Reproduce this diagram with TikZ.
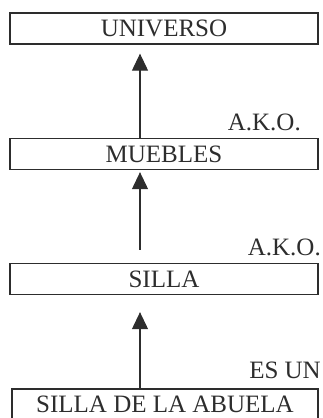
\documentclass[tikz,border=0pt]{standalone}
\usepackage{fontspec}
\setmainfont{Liberation Serif}
\usepackage{tikz}
\usetikzlibrary{arrows.meta}
\definecolor{InkGray}{RGB}{45,45,45}

\begin{document}
\begin{tikzpicture}[x=1pt, y=-1pt,
          box/.style={rectangle, draw=InkGray, line width=1.3pt, minimum width=308pt,
                      minimum height=31pt, inner sep=0pt, align=center,
                      font=\fontsize{25}{30}\selectfont, text=InkGray},
          arr/.style={-{Triangle[length=17pt, width=16pt]}, draw=InkGray, fill=InkGray,
                      line width=1.1pt},
          rel/.style={anchor=base east, inner sep=0pt,
                      font=\fontsize{25}{30}\selectfont, text=InkGray}
        ]
        \useasboundingbox (0,0) rectangle (322,418);

        \node[box] (univ)    at (164, 28.5)  {UNIVERSO};
        \node[box] (muebles) at (164, 154)   {MUEBLES};
        \node[box] (silla)   at (164, 279)   {SILLA};
        \node[box, minimum width=306pt] (abuela) at (165, 404.5)
              {SILLA DE LA ABUELA};

        \draw[arr, shorten >=9pt]
              ([xshift=-24pt]muebles.north) -- ([xshift=-24pt]univ.south);
        \draw[arr, shorten <=13pt, shorten >=2pt]
              ([xshift=-24pt]silla.north) -- ([xshift=-24pt]muebles.south);
        \draw[arr, shorten >=17pt]
              ([xshift=-25pt]abuela.north) -- ([xshift=-24pt]silla.south);

        \node[rel] (ako1) at (301, 130) {A.K.O.};
        \node[rel] (ako2) at (321, 255) {A.K.O.};
        \node[rel] (esun) at (321, 378) {ES UN};
\end{tikzpicture}
\end{document}
